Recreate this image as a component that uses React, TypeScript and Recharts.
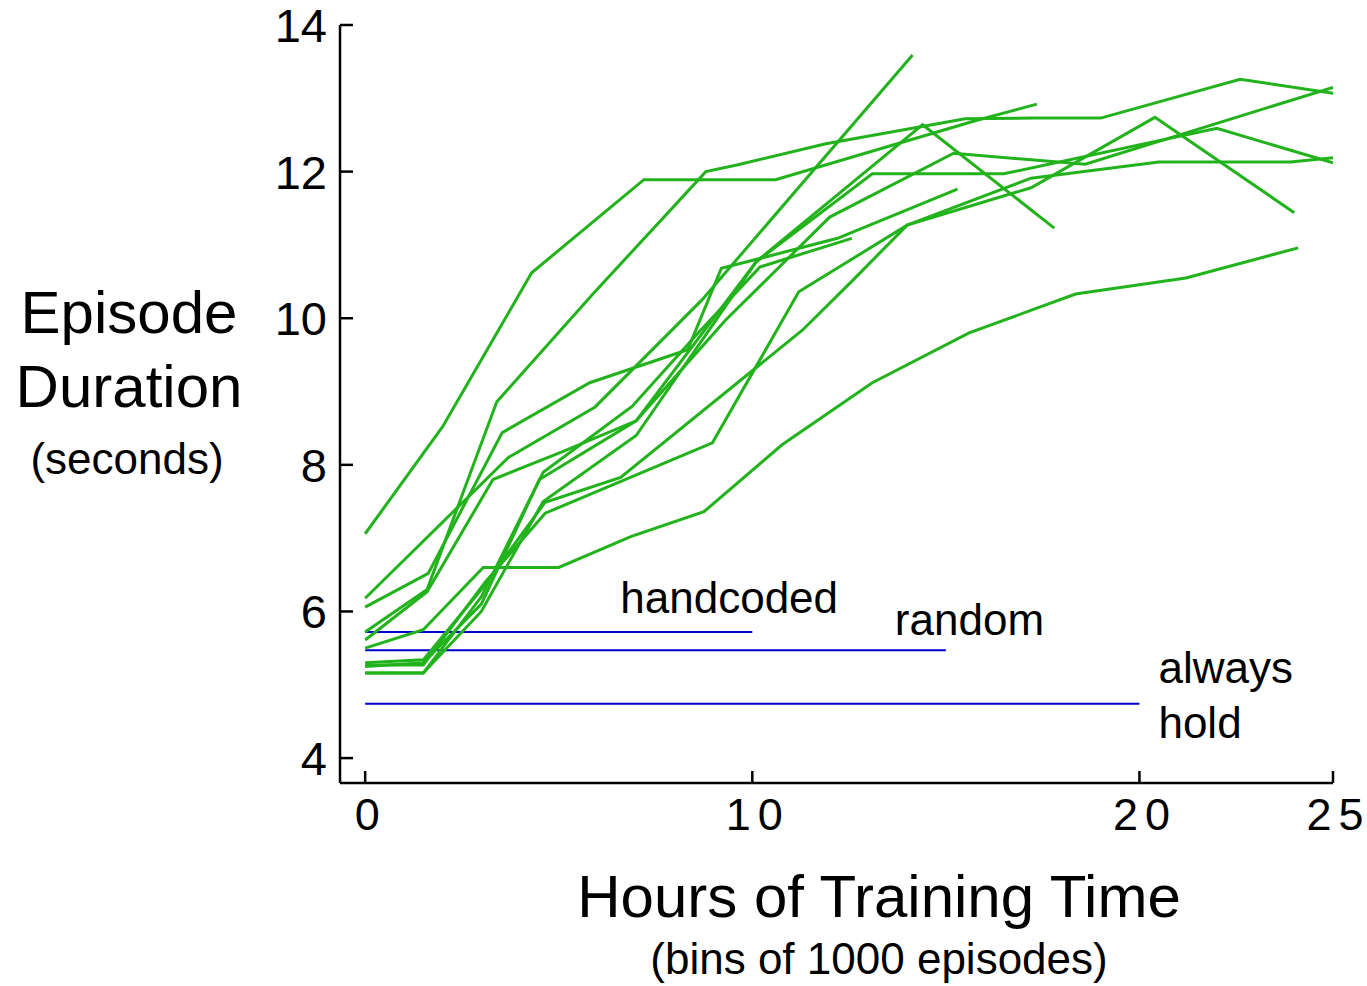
import React from 'react';
import { LineChart, Line, XAxis, YAxis } from 'recharts';

const FONT = '"Liberation Sans", Arial, Helvetica, sans-serif';
const GREEN = '#22b31c';
const BLUE = '#0000cc';

const xTicks = [0, 10, 20, 25];
const yTicks = [4, 6, 8, 10, 12, 14];

// Learning curves: [hours, episode duration (s)]
const run1 = [[0, 6.18], [3.7, 8.1], [5.94, 8.79], [8.7, 10.25], [14.14, 13.59]];
const run2 = [[0, 7.06], [2.0, 8.52], [4.3, 10.62], [7.2, 11.89], [8.9, 11.89], [10.6, 11.89], [15.8, 12.7], [17.35, 12.92]];
const run3 = [[0, 5.72], [1.6, 6.3], [3.4, 8.86], [5.9, 10.34], [8.8, 12.0], [9.6, 12.09], [11.9, 12.38], [15.5, 12.72], [17.3, 12.73], [19.0, 12.73], [22.6, 13.26], [25, 13.07]];
const run4 = [[0, 5.61], [1.6, 6.27], [3.3, 7.8], [5.1, 8.18], [7.0, 8.6], [9.3, 9.97], [12.0, 11.38], [15.2, 12.25], [18.6, 12.1], [25, 13.15]];
const run5 = [[0, 5.16], [1.5, 5.16], [3.0, 6.0], [4.6, 7.5], [7.0, 8.4], [10.1, 10.77], [13.1, 11.97], [16.5, 11.97], [22.0, 12.59], [25, 12.12]];
const run6 = [[0, 5.3], [1.5, 5.34], [3.0, 6.3], [4.65, 7.49], [6.6, 7.83], [11.3, 9.84], [12.6, 10.52], [14.0, 11.27], [17.2, 11.78], [20.4, 12.74], [24.0, 11.44]];
const run7 = [[0, 5.25], [1.5, 5.3], [3.0, 6.1], [4.5, 7.8], [7.0, 8.6], [10.1, 10.77], [14.4, 12.64], [17.8, 11.23]];
const run8 = [[0, 5.27], [1.5, 5.27], [3.1, 6.4], [4.65, 7.34], [8.97, 8.3], [11.2, 10.36], [14.0, 11.27], [17.2, 11.91], [20.5, 12.13], [23.9, 12.13], [25, 12.19]];
const run9 = [[0, 5.5], [1.5, 5.75], [3.05, 6.6], [5.0, 6.6], [6.86, 7.02], [8.75, 7.36], [10.76, 8.27], [13.1, 9.12], [15.6, 9.8], [18.35, 10.33], [21.2, 10.55], [24.1, 10.96]];
const run10 = [[0, 6.06], [1.63, 6.52], [3.54, 8.44], [5.8, 9.12], [8.33, 9.57], [9.2, 10.68], [12.2, 11.09], [15.3, 11.76]];
const run11 = [[0, 5.16], [1.5, 5.16], [3.0, 6.2], [4.6, 7.9], [6.9, 8.8], [8.6, 9.8], [10.2, 10.7], [12.57, 11.09]];

const runs = [run1, run2, run3, run4, run5, run6, run7, run8, run9, run10, run11];

// Baseline policies
const baselineNames = ['handcoded', 'random', 'always hold'];
const baselineValues = [5.72, 5.47, 4.74];
const baselineEnds = [10, 15, 20];

const toPoints = (r: number[][]) => r.map(([x, y]) => ({ x, y }));

// label placement relative to the end of each baseline line
const labelStyle = [
  { dx: -132, lines: [{ dy: -19 }] },
  { dx: -51, lines: [{ dy: -15 }] },
  { dx: 19, lines: [{ dy: -21 }, { dy: 34 }] },
];

const XTick = (props: any) => {
  const { x, y, payload } = props;
  const chars = String(payload.value).split('');
  return (
    <g>
      <line x1={x} y1={y} x2={x} y2={y - 12} stroke="#000" strokeWidth={2.5} />
      <text x={x + 2} y={y + 47} textAnchor="middle" fontFamily={FONT} fontSize={45} fill="#000">
        {chars.map((c, k) => (
          <tspan key={k} dx={k === 0 ? 0 : 7}>{c}</tspan>
        ))}
      </text>
    </g>
  );
};

const YTick = (props: any) => {
  const { x, y, payload } = props;
  return (
    <g>
      <line x1={x} y1={y} x2={x + 13} y2={y} stroke="#000" strokeWidth={2.5} />
      <text x={x - 13} y={y} dy="0.36em" textAnchor="end" fontFamily={FONT} fontSize={47} fill="#000">
        {payload.value}
      </text>
    </g>
  );
};

const makeBaselineLabel = (i: number) => (p: any) => {
  if (p.index !== 1) return null;
  const words = i === 2 ? ['always', 'hold'] : [baselineNames[i]];
  const st = labelStyle[i];
  return (
    <g>
      {words.map((w, k) => (
        <text key={k} x={p.x + st.dx} y={p.y + st.lines[k].dy} fontFamily={FONT} fontSize={44} fill="#000">
          {w}
        </text>
      ))}
    </g>
  );
};

export default function App() {
  return (
    <div style={{ position: 'absolute', left: 0, top: 0, width: 1367, height: 986, background: '#fff' }}>
      <LineChart width={1367} height={986} margin={{ top: 25, right: 34, bottom: 202, left: 339 }}>
        <XAxis
          type="number"
          dataKey="x"
          domain={[-0.65, 25]}
          ticks={xTicks}
          allowDataOverflow
          height={1}
          tickSize={0}
          tickMargin={0}
          tickLine={false}
          axisLine={{ stroke: '#000', strokeWidth: 2.5 }}
          tick={<XTick />}
          interval={0}
        />
        <YAxis
          type="number"
          domain={[3.66, 14]}
          ticks={yTicks}
          allowDataOverflow
          width={1}
          tickSize={0}
          tickMargin={0}
          tickLine={false}
          axisLine={{ stroke: '#000', strokeWidth: 2.5 }}
          tick={<YTick />}
          interval={0}
        />
        {baselineValues.map((v, i) => (
          <Line
            key={'b' + i}
            data={[{ x: 0, y: v }, { x: baselineEnds[i], y: v }]}
            dataKey="y"
            type="linear"
            stroke={BLUE}
            strokeWidth={2}
            dot={false}
            isAnimationActive={false}
            label={makeBaselineLabel(i)}
          />
        ))}
        {runs.map((r, i) => (
          <Line
            key={'r' + i}
            data={toPoints(r)}
            dataKey="y"
            type="linear"
            stroke={GREEN}
            strokeWidth={3}
            dot={false}
            isAnimationActive={false}
          />
        ))}
      </LineChart>
      <svg width={1367} height={986} style={{ position: 'absolute', left: 0, top: 0, pointerEvents: 'none' }}>
        <g fontFamily={FONT} fill="#000" textAnchor="middle">
          <text x={129} y={333} fontSize={60}>Episode</text>
          <text x={129} y={407} fontSize={60}>Duration</text>
          <text x={127} y={474} fontSize={44}>(seconds)</text>
          <text x={879} y={917} fontSize={60}>Hours of Training Time</text>
          <text x={879} y={974} fontSize={44}>(bins of 1000 episodes)</text>
        </g>
      </svg>
    </div>
  );
}
